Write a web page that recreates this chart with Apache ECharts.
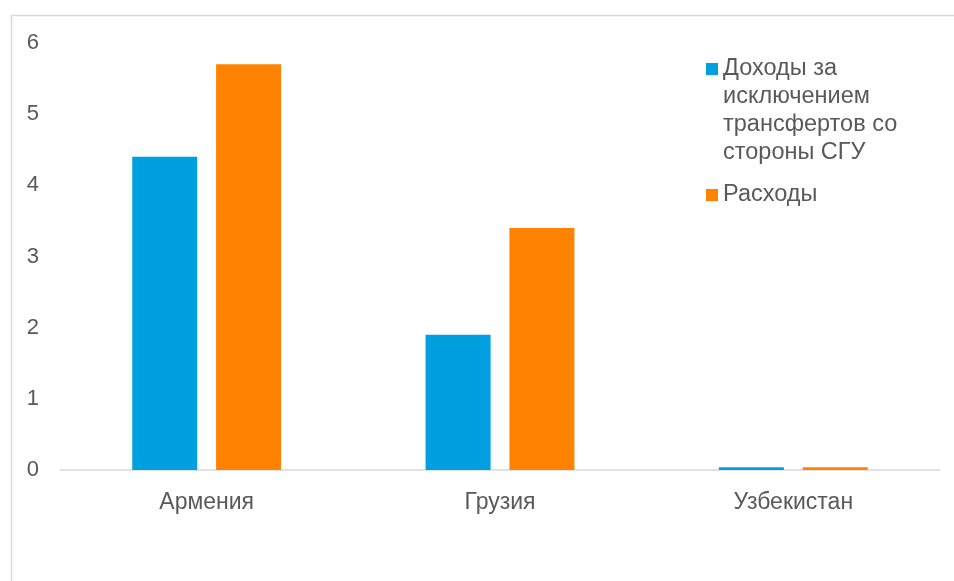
<!DOCTYPE html>
<html><head><meta charset="utf-8">
<script src="https://cdn.jsdelivr.net/npm/echarts@6/dist/echarts.min.js"></script>
<style>html,body{margin:0;padding:0;background:#fff}#c{width:954px;height:581px}</style>
</head><body><div id="c"></div>
<script>
const categories = ['Армения', 'Грузия', 'Узбекистан'];
const seriesNames = ['Доходы за исключением трансфертов со стороны СГУ', 'Расходы'];
const legendLabels = ['Доходы за\nисключением\nтрансфертов со\nстороны СГУ', 'Расходы'];
const incomeValues = [4.4, 1.9, 0.04];
const expenseValues = [5.7, 3.4, 0.04];
const yTicks = [0, 1, 2, 3, 4, 5, 6];

const chart = echarts.init(document.getElementById('c'), null, {renderer: 'canvas'});
const txt = '#595959';
const font = 'Liberation Sans, Arial, sans-serif';
chart.setOption({
  animation: false,
  textStyle: {fontFamily: font},
  graphic: [{
    type: 'rect', left: 9, top: 13, silent: true,
    shape: {width: 980, height: 600},
    style: {fill: 'none', stroke: '#d9d9d9', lineWidth: 1.5}
  }],
  grid: {left: 60, right: 14, top: 43, bottom: 111, containLabel: false},
  xAxis: {
    type: 'category', data: categories,
    axisLine: {lineStyle: {color: '#d9d9d9', width: 1.5}},
    axisTick: {show: false},
    axisLabel: {color: txt, fontSize: 23, margin: 21, fontFamily: font}
  },
  yAxis: {
    type: 'value', min: yTicks[0], max: yTicks[yTicks.length - 1], interval: 1,
    splitLine: {show: false},
    axisLine: {show: false}, axisTick: {show: false},
    axisLabel: {color: txt, fontSize: 22, margin: 21, fontFamily: font}
  },
  legend: [{
    orient: 'vertical', left: 706, top: 55, padding: 0,
    itemWidth: 12, itemHeight: 96, icon: 'path://M0,0h12v12h-12zM0,96',
    data: [seriesNames[0]],
    formatter: () => legendLabels[0],
    textStyle: {color: txt, fontSize: 23.5, lineHeight: 28, fontFamily: font}
  }, {
    orient: 'vertical', left: 706, top: 181, padding: 0,
    itemWidth: 12, itemHeight: 12, icon: 'rect',
    data: [seriesNames[1]],
    formatter: () => legendLabels[1],
    textStyle: {color: txt, fontSize: 23.5, lineHeight: 28, fontFamily: font}
  }],
  series: [{
    name: seriesNames[0], type: 'bar', data: incomeValues,
    barWidth: 65, barGap: '29%',
    itemStyle: {color: '#009FDF'}
  }, {
    name: seriesNames[1], type: 'bar', data: expenseValues,
    barWidth: 65,
    itemStyle: {color: '#FF8200'}
  }]
});
</script></body></html>
